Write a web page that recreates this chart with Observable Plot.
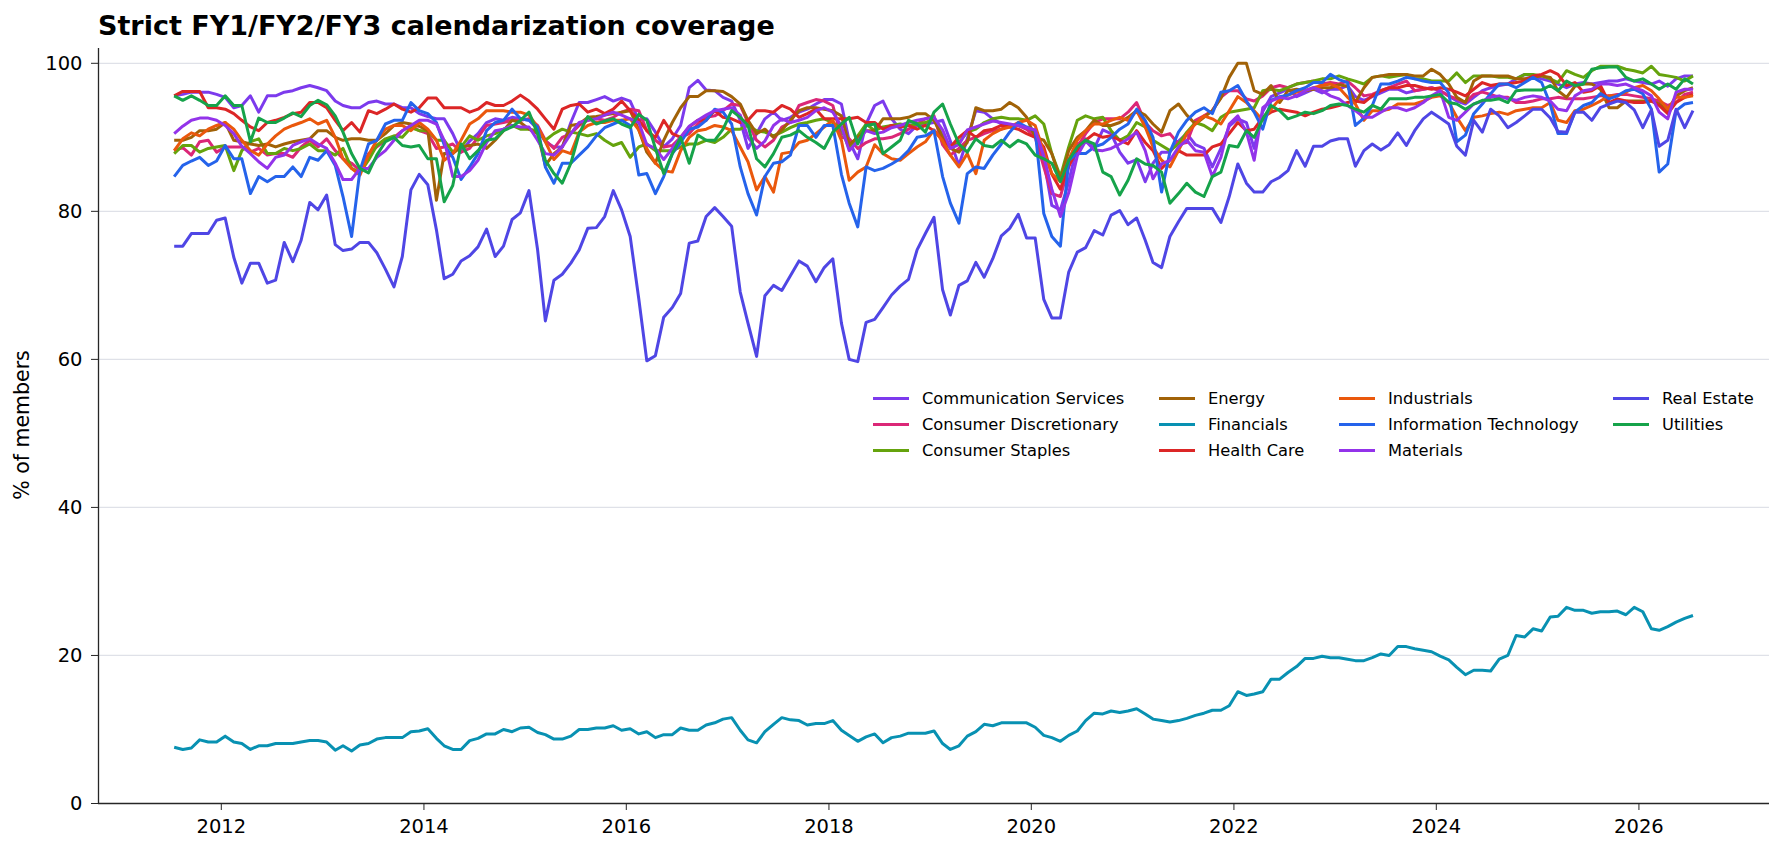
<!DOCTYPE html>
<html>
<head>
<meta charset="utf-8">
<script src="https://cdn.jsdelivr.net/npm/d3@7"></script>
<script src="https://cdn.jsdelivr.net/npm/@observablehq/plot@0.6"></script>
<style>
  body { margin: 0; background: #fff; font-family: "DejaVu Sans", sans-serif; }
  #wrap { position: relative; width: 1784px; height: 853px; overflow: hidden; }
  #title { position: absolute; left: 98px; top: 12px; font-size: 27px; line-height: 1; font-weight: bold; color: #000; white-space: nowrap; }
  #ylabel { position: absolute; left: 22px; top: 425px; transform: translate(-50%, -50%) rotate(-90deg); font-size: 20.5px; color: #000; white-space: nowrap; }
  .lg { position: absolute; height: 20px; display: flex; align-items: center; font-size: 16.3px; color: #000; white-space: nowrap; }
  .lg .sw { width: 36px; height: 3px; margin-right: 13px; }
</style>
</head>
<body>
<div id="wrap">
  <div id="chart"></div>
  <div id="title">Strict FY1/FY2/FY3 calendarization coverage</div>
  <div id="ylabel">% of members</div>
  <div id="legend"></div>
</div>
<script>
// Monthly coverage (% of members) per GICS sector, Jul 2011 – Jul 2026
const firstMonth = [2011, 6];   // July 2011 (UTC month index)
const monthCount = 181;

const sectors = [
  "Communication Services", "Consumer Discretionary", "Consumer Staples",
  "Energy", "Financials", "Health Care", "Industrials",
  "Information Technology", "Materials", "Real Estate", "Utilities"
];
const sectorColors = [
  "#7c3aed", "#db2777", "#65a30d", "#a16207", "#0891b2", "#dc2626",
  "#ea580c", "#2563eb", "#9333ea", "#4f46e5", "#16a34a"
];

const communicationServices = [
  95.6, 95.8, 96.1, 96.1, 96.1, 95.8, 95.4, 94.0, 94.3, 95.6,
  93.4, 95.6, 95.6, 96.1, 96.3, 96.7, 97.0, 96.7, 96.3, 94.9,
  94.3, 94.0, 94.0, 94.7, 94.9, 94.5, 94.5, 94.0, 94.0, 93.2,
  92.8, 92.5, 92.5, 90.5, 88.0, 89.5, 90.5,
  92.0, 92.5, 92.3, 92.7, 92.5, 92.3, 91.1, 89.4, 88.7, 88.7,
  92.0, 94.7, 94.7, 95.1, 95.5, 94.9, 95.3, 94.9, 92.3, 92.5,
  90.7, 88.7, 89.8, 91.6, 96.7, 97.7, 96.4, 96.3, 95.4, 94.9,
  92.3, 88.5, 90.5, 92.5, 93.4, 92.3, 92.7,
  93.4, 93.8, 94.5, 95.1, 95.1, 94.5, 89.5, 87.1, 91.8, 94.3,
  94.9, 92.5, 91.1, 90.5, 91.6, 91.8, 92.0, 92.3, 89.5, 86.2,
  89.8, 93.6, 93.4, 92.5, 91.8, 91.6, 91.6, 91.1, 90.5, 86.9,
  80.8, 80.2, 84.0, 89.0, 89.8, 88.5,
  91.0, 90.5, 88.0, 86.5, 87.0, 84.0, 86.5, 88.0, 88.0, 89.5,
  90.5, 89.0, 88.5, 86.0, 88.5, 91.5, 92.5, 92.0, 88.5, 93.5,
  95.5, 96.0, 96.5, 95.5, 96.0, 96.5, 96.0, 96.5, 96.5, 97.0,
  95.5, 95.0, 95.5, 96.0, 96.5, 96.5, 96.0,
  96.3, 96.5, 96.7, 96.3, 95.6, 94.9, 94.5, 95.4, 96.3, 96.7,
  97.0, 97.2, 97.9, 98.5, 98.3, 97.9, 97.6, 97.2, 96.7, 97.2,
  97.4, 97.2, 97.4, 97.6, 97.6, 97.9, 97.6, 97.4, 97.2, 97.6,
  96.9, 97.9, 98.3, 98.3
];

const consumerDiscretionary = [
  88.2, 88.6, 87.6, 89.4, 89.6, 88.0, 88.7, 88.7, 88.7, 88.0,
  88.5, 87.6, 87.8, 87.8, 87.3, 88.7, 89.6, 88.7, 89.8, 88.2,
  87.1, 86.5, 85.5, 87.8, 88.7, 89.6, 90.0, 90.9, 91.6, 90.9,
  90.5, 88.5, 88.7, 89.1, 88.0, 88.5, 90.0,
  91.6, 91.8, 92.0, 92.3, 92.3, 92.5, 91.6, 89.6, 88.5, 90.0,
  90.5, 91.6, 92.3, 92.5, 92.3, 92.7, 93.4, 93.8, 93.6, 90.9,
  89.6, 88.7, 88.9, 90.0, 90.5, 91.8, 92.7, 92.9, 93.6, 94.5,
  94.3, 92.0, 89.6, 88.7, 89.6, 91.4, 92.0,
  94.3, 94.7, 95.1, 94.9, 94.3, 90.0, 89.8, 88.5, 89.3, 89.8,
  89.8, 90.0, 90.5, 91.1, 91.8, 92.5, 92.9, 89.0, 87.6, 88.5,
  89.6, 90.0, 90.5, 90.9, 91.1, 91.6, 91.6, 91.1, 90.0, 86.0,
  82.4, 82.0, 86.0, 88.7, 90.5, 92.0,
  92.5, 92.5, 92.5, 93.4, 94.7, 92.0, 90.9, 90.2, 90.5, 89.1,
  89.3, 92.3, 92.9, 93.6, 95.4, 96.3, 96.3, 95.2, 94.9, 95.6,
  96.7, 97.0, 96.7, 97.2, 97.4, 97.6, 97.2, 97.4, 97.2, 97.6,
  96.7, 95.6, 95.8, 96.3, 96.7, 97.2, 97.6,
  96.3, 96.5, 96.7, 96.3, 95.6, 95.2, 94.7, 95.8, 96.1, 95.8,
  95.4, 95.4, 94.7, 94.7, 94.9, 95.2, 95.2, 95.4, 95.2, 95.2,
  95.2, 95.4, 95.6, 95.6, 95.8, 95.8, 95.6, 95.4, 95.2, 94.9,
  94.3, 94.7, 95.8, 96.1
];

const consumerStaples = [
  87.8, 88.9, 88.9, 88.0, 88.5, 88.7, 88.9, 85.5, 88.2, 89.4,
  89.8, 87.8, 87.8, 88.5, 88.2, 88.5, 89.1, 88.2, 88.2, 87.6,
  88.5, 85.8, 85.2, 86.9, 88.9, 89.8, 90.2, 90.0, 91.3, 90.9,
  90.9, 89.6, 89.6, 88.0, 88.7, 90.2, 89.6,
  90.2, 90.5, 91.1, 91.6, 91.1, 91.1, 90.9, 89.6, 90.5, 91.1,
  90.7, 90.5, 90.2, 90.5, 89.6, 88.9, 89.3, 87.3, 88.7, 89.1,
  88.2, 88.2, 88.2, 88.7, 89.1, 89.1, 89.6, 89.3, 90.0, 91.1,
  91.1, 91.6, 90.9, 90.7, 90.2, 90.7, 91.3,
  91.8, 92.0, 92.3, 92.5, 92.0, 91.1, 88.5, 90.2, 91.8, 90.9,
  91.4, 91.6, 91.8, 91.6, 91.8, 92.0, 92.5, 90.2, 88.7, 89.3,
  90.7, 91.1, 92.0, 92.5, 92.7, 92.5, 92.5, 92.3, 92.9, 91.8,
  87.8, 84.7, 88.7, 92.3, 92.9, 92.5,
  92.7, 90.9, 89.6, 90.2, 92.0, 91.4, 89.6, 88.9, 88.2, 89.1,
  90.7, 92.0, 91.6, 90.9, 92.7, 93.4, 93.6, 93.8, 94.0, 96.3,
  96.5, 96.3, 96.7, 97.2, 97.4, 97.6, 97.9, 97.9, 98.3, 97.9,
  97.6, 97.2, 98.1, 98.3, 98.1, 98.3, 98.5,
  97.9, 97.9, 97.6, 97.6, 97.6, 98.7, 97.4, 98.3, 98.3, 98.3,
  98.1, 98.1, 97.9, 98.5, 98.5, 98.3, 97.9, 97.4, 99.0, 98.5,
  98.1, 99.0, 99.6, 99.6, 99.6, 99.2, 99.0, 98.7, 99.6, 98.5,
  98.3, 98.1, 97.6, 98.3
];

const energy = [
  89.6, 89.6, 90.0, 90.9, 90.9, 91.1, 92.0, 89.6, 89.4, 89.1,
  88.9, 89.1, 88.7, 89.1, 89.4, 89.6, 89.8, 90.9, 90.9, 90.0,
  89.6, 89.8, 89.8, 89.6, 89.6, 90.5, 91.6, 92.0, 91.8, 91.5,
  90.9, 81.5, 87.8, 87.8, 88.7, 88.9, 89.1,
  88.5, 89.6, 90.9, 92.3, 92.0, 91.1, 90.5, 86.2, 87.8, 88.7,
  91.6, 91.8, 92.7, 92.8, 93.0, 93.2, 93.4, 93.6, 91.0, 88.0,
  86.5, 89.6, 92.0, 94.0, 95.5, 95.5, 96.3, 96.3, 96.2, 95.5,
  94.5, 92.3, 90.5, 91.1, 90.0, 91.0, 92.3,
  93.6, 94.0, 94.0, 93.8, 93.6, 92.9, 89.0, 90.0, 90.9, 90.9,
  92.5, 92.5, 92.5, 92.7, 93.2, 93.2, 92.3, 90.0, 88.5, 88.0,
  89.3, 94.0, 93.6, 93.6, 93.8, 94.7, 94.0, 92.7, 90.0, 89.6,
  87.8, 84.2, 88.2, 90.0, 90.9, 92.3,
  91.6, 91.6, 92.0, 92.7, 93.6, 93.0, 91.8, 90.7, 93.6, 94.5,
  93.0, 91.8, 92.7, 93.6, 95.3, 98.1, 100.0, 100.0, 96.3, 95.8,
  97.0, 94.7, 96.3, 96.5, 96.3, 96.5, 96.7, 96.7, 97.1, 96.9,
  94.7, 96.7, 98.1, 98.3, 98.5, 98.5, 98.5,
  98.3, 98.3, 99.2, 98.5, 97.2, 95.4, 94.7, 97.6, 98.3, 98.3,
  98.3, 98.3, 97.9, 97.9, 98.1, 98.3, 98.1, 96.3, 95.4, 96.9,
  97.2, 97.2, 96.5, 94.0, 94.0, 94.9, 94.9, 94.9, 94.9, 94.5,
  93.6, 95.6, 96.3, 96.7
];

const financials = [
  7.6, 7.3, 7.5, 8.6, 8.3, 8.3, 9.1, 8.3, 8.1, 7.3,
  7.8, 7.8, 8.1, 8.1, 8.1, 8.3, 8.5, 8.5, 8.3, 7.2,
  7.8, 7.1, 7.9, 8.1, 8.7, 8.9, 8.9, 8.9, 9.7, 9.8,
  10.1, 8.8, 7.8, 7.3, 7.3, 8.5, 8.8, 9.4, 9.4, 10.0,
  9.7, 10.2, 10.3, 9.6, 9.3, 8.7, 8.7, 9.1, 10.0, 10.0,
  10.2, 10.2, 10.5, 9.9, 10.1, 9.4, 9.7, 8.9, 9.3, 9.3,
  10.2, 9.9, 9.9, 10.6, 10.9, 11.4, 11.6, 9.9, 8.6, 8.2,
  9.7, 10.7, 11.6, 11.3, 11.2, 10.6, 10.8, 10.8, 11.2, 9.9,
  9.2, 8.4, 9.0, 9.4, 8.2, 8.9, 9.1, 9.5, 9.5, 9.5,
  9.8, 8.1,
  7.3, 7.8, 9.1, 9.7, 10.7, 10.5, 10.9, 10.9, 10.9, 10.9,
  10.3, 9.2, 8.9, 8.4, 9.2, 9.8, 11.2, 12.2, 12.1, 12.5,
  12.3, 12.5, 12.8, 12.1, 11.4, 11.2, 11.0, 11.2, 11.5, 11.9,
  12.2, 12.6, 12.6, 13.2, 15.1, 14.6, 14.8, 15.1, 16.8, 16.8,
  17.7, 18.5, 19.6, 19.6, 19.9, 19.7, 19.7, 19.5, 19.3, 19.3,
  19.7, 20.2, 20.0, 21.2, 21.2, 20.9, 20.7, 20.5, 19.9, 19.4,
  18.4, 17.4, 18.0, 18.0, 17.9, 19.5, 20.0, 22.7, 22.5, 23.6,
  23.3, 25.2, 25.3, 26.5, 26.1, 26.1, 25.7, 25.9, 25.9, 26.0,
  25.5, 26.5, 25.9, 23.6, 23.4, 23.9, 24.5, 25.0, 25.4
];

const healthCare = [
  95.6, 96.2, 96.2, 96.2, 94.0, 94.0, 93.8, 93.2, 92.3, 91.4,
  90.9, 92.0, 92.3, 92.7, 93.2, 93.4, 94.7, 94.7, 94.0, 92.3,
  90.9, 92.0, 90.7, 93.6, 93.2, 93.8, 94.5, 93.8, 93.4, 94.0,
  95.3, 95.3, 94.0, 94.0, 94.0, 93.4, 93.8,
  94.7, 94.3, 94.3, 94.9, 95.7, 94.9, 93.8, 92.5, 91.1, 93.8,
  94.3, 94.5, 93.4, 93.8, 93.2, 93.8, 94.9, 93.6, 92.3, 90.9,
  90.0, 92.3, 90.5, 90.0, 91.4, 92.3, 92.3, 93.6, 92.7, 92.5,
  92.0, 92.3, 93.6, 93.6, 93.4, 94.3, 93.8,
  92.7, 93.2, 93.8, 92.5, 92.5, 92.5, 92.5, 92.7, 92.0, 92.0,
  91.1, 91.6, 91.4, 91.6, 91.1, 91.6, 90.9, 89.6, 88.7, 90.0,
  90.9, 90.0, 90.9, 91.1, 91.6, 91.4, 91.1, 90.5, 90.0, 88.7,
  85.0, 83.0, 86.2, 88.2, 89.6, 90.5,
  90.0, 90.2, 89.6, 89.1, 90.9, 89.3, 88.2, 85.8, 86.9, 88.2,
  87.6, 87.6, 87.6, 88.7, 89.1, 90.5, 92.0, 90.9, 91.1, 92.7,
  93.4, 93.8, 93.6, 93.4, 92.9, 93.4, 93.8, 94.0, 94.3, 94.7,
  94.9, 94.7, 95.6, 96.3, 96.7, 96.7, 97.0,
  97.0, 96.7, 96.5, 96.7, 96.5, 96.1, 95.6, 96.5, 97.4, 97.0,
  97.2, 97.2, 97.4, 97.6, 98.3, 98.5, 99.0, 98.5, 97.0, 97.4,
  96.1, 96.3, 97.0, 94.7, 95.2, 94.9, 94.7, 94.7, 94.9, 94.3,
  93.2, 94.7, 95.4, 95.8
];

const industrials = [
  88.2, 89.8, 90.6, 90.2, 91.1, 91.6, 92.0, 91.1, 89.6, 88.2,
  87.6, 89.1, 90.2, 91.1, 91.6, 92.0, 92.5, 91.8, 92.3, 90.0,
  87.1, 85.8, 84.9, 87.6, 89.6, 91.1, 91.6, 91.6, 90.9, 92.0,
  91.1, 89.6, 86.9, 87.8, 89.6, 91.8, 92.5,
  93.6, 93.6, 93.6, 93.4, 93.4, 93.0, 91.4, 89.4, 87.0, 88.2,
  87.8, 90.7, 91.6, 92.0, 92.0, 92.3, 92.3, 92.5, 91.0, 88.5,
  86.5, 85.5, 85.3, 88.2, 90.0, 90.9, 91.1, 91.6, 91.4, 90.9,
  88.7, 86.7, 82.9, 84.7, 82.6, 87.8, 88.0,
  89.3, 89.6, 90.5, 91.4, 92.3, 89.6, 84.2, 85.3, 86.0, 89.0,
  87.8, 87.1, 86.9, 87.8, 88.7, 89.4, 91.0, 89.5, 87.6, 86.0,
  87.8, 85.1, 89.6, 90.5, 91.1, 91.4, 92.0, 92.3, 91.6, 88.0,
  85.1, 84.0, 87.0, 89.6, 90.9, 91.8,
  91.8, 92.3, 92.7, 92.3, 93.6, 91.4, 88.7, 86.9, 86.0, 88.2,
  90.5, 91.8, 92.9, 92.5, 91.8, 93.6, 95.5, 94.7, 93.6, 92.3,
  93.8, 95.2, 95.7, 96.1, 96.3, 96.7, 97.0, 97.2, 96.7, 95.4,
  94.5, 92.3, 93.6, 93.6, 93.8, 94.5, 94.5,
  94.5, 94.9, 95.4, 95.6, 94.7, 92.7, 90.9, 92.7, 92.9, 93.2,
  93.4, 93.1, 93.6, 93.8, 94.0, 94.0, 94.7, 92.3, 92.0, 93.6,
  93.8, 94.3, 94.9, 95.6, 95.6, 96.1, 96.7, 97.0, 96.3, 95.2,
  93.8, 95.4, 95.4, 95.6
];

const informationTechnology = [
  84.7, 86.2, 86.8, 87.3, 86.2, 86.8, 88.9, 87.1, 87.1, 82.4,
  84.7, 84.0, 84.7, 84.7, 86.0, 84.7, 87.3, 86.9, 88.2, 86.2,
  82.0, 76.6, 85.5, 89.1, 89.6, 91.8, 92.3, 92.3, 94.7, 93.6,
  93.2, 92.0, 89.0, 87.3, 84.3, 86.0, 87.8,
  90.9, 92.0, 92.3, 93.8, 92.5, 92.3, 91.4, 86.0, 83.8, 86.5,
  86.5, 87.6, 88.7, 90.2, 91.3, 91.8, 92.3, 91.6, 84.9, 85.1,
  82.4, 84.7, 87.8, 89.3, 91.1, 91.4, 92.3, 93.8, 93.4, 91.8,
  86.0, 82.4, 79.5, 84.7, 86.5, 86.7, 87.6,
  91.6, 91.6, 90.0, 91.6, 91.6, 85.0, 81.1, 77.9, 86.0, 85.5,
  85.8, 86.4, 87.1, 88.2, 90.0, 90.2, 90.9, 84.7, 81.1, 78.4,
  85.1, 86.0, 85.8, 87.6, 89.1, 90.7, 92.0, 91.4, 90.9, 79.7,
  76.6, 75.3, 86.9, 87.8, 87.8, 88.7,
  89.1, 90.0, 91.1, 91.8, 93.8, 92.3, 90.0, 82.6, 88.0, 90.7,
  92.3, 93.4, 94.0, 93.2, 96.1, 96.3, 97.0, 94.9, 93.4, 91.1,
  95.0, 95.5, 95.7, 96.3, 96.7, 97.4, 97.4, 98.5, 97.8, 97.4,
  91.6, 92.6, 94.3, 97.2, 97.2, 97.6, 98.1,
  97.9, 97.6, 97.4, 97.4, 96.0, 89.4, 90.3, 93.2, 94.5, 95.9,
  97.2, 97.2, 96.7, 97.4, 98.1, 97.4, 94.5, 90.5, 90.5, 93.4,
  94.3, 94.7, 95.9, 95.2, 95.6, 96.3, 96.5, 95.9, 93.8, 85.3,
  86.4, 93.6, 94.5, 94.7
];

const materials = [
  90.5, 91.5, 92.3, 92.6, 92.6, 92.3, 91.6, 90.5, 88.8, 87.8,
  86.7, 85.8, 87.3, 87.6, 88.9, 89.4, 89.8, 89.1, 88.5, 86.5,
  84.3, 84.3, 85.8, 85.8, 87.3, 88.2, 89.6, 90.9, 91.6, 92.3,
  92.3, 91.8, 89.6, 84.7, 84.7, 85.5, 86.9,
  89.3, 90.9, 91.1, 91.6, 91.4, 91.4, 89.6, 87.8, 87.6, 88.7,
  90.5, 92.0, 92.3, 92.5, 93.0, 93.4, 93.0, 92.5, 92.0, 89.0,
  88.5, 87.0, 88.5, 90.0, 91.5, 92.3, 93.0, 93.6, 93.8, 94.0,
  93.0, 90.0, 88.5, 89.5, 91.6, 92.5, 92.0,
  92.3, 92.7, 93.6, 94.0, 93.4, 91.5, 88.2, 89.5, 90.9, 90.5,
  90.7, 91.3, 91.6, 92.0, 92.3, 92.5, 92.7, 91.0, 88.5, 89.0,
  91.0, 91.4, 91.8, 92.2, 92.0, 91.8, 91.6, 91.3, 91.0, 87.5,
  83.0, 79.3, 82.5, 87.5, 89.5, 88.3,
  88.2, 88.5, 89.1, 89.8, 90.7, 88.2, 84.4, 86.4, 86.9, 88.7,
  89.6, 88.2, 88.0, 84.7, 87.3, 91.8, 92.9, 90.7, 86.9, 94.0,
  94.9, 95.4, 95.2, 95.6, 96.3, 96.7, 96.3, 95.6, 95.2, 94.3,
  93.6, 92.7, 92.7, 93.4, 94.0, 94.0, 93.6,
  94.0, 94.7, 95.6, 96.3, 92.7, 92.3, 93.4, 94.5, 94.9, 95.4,
  95.6, 95.2, 95.0, 95.4, 95.6, 95.4, 94.9, 93.8, 93.6, 95.6,
  96.3, 96.5, 97.2, 97.2, 97.0, 97.2, 96.7, 96.3, 95.6, 93.4,
  92.5, 96.1, 96.5, 96.5
];

const realEstate = [
  75.3, 75.3, 77.0, 77.0, 77.0, 78.8, 79.1, 73.8, 70.3, 73.0,
  73.0, 70.3, 70.7, 75.8, 73.2, 76.1, 81.2, 80.2, 82.2, 75.5,
  74.7, 74.9, 75.8, 75.8, 74.4, 72.2, 69.8, 73.9, 82.9, 85.0,
  83.6, 77.5, 70.9, 71.5, 73.3, 74.0, 75.2, 77.6, 73.9, 75.3,
  78.9, 79.8, 82.8, 74.8, 65.2, 70.7, 71.5, 73.0, 74.8, 77.7,
  77.8, 79.3, 82.8, 80.2, 76.6, 68.2, 59.8, 60.5, 65.7, 67.0,
  68.9, 75.7, 76.0, 79.3, 80.5, 79.3, 78.0, 69.1, 64.9, 60.4,
  68.6, 70.0, 69.3, 71.3, 73.3, 72.6, 70.5, 72.4, 73.6, 64.9,
  60.0, 59.7, 65.0, 65.4, 67.0, 68.7, 69.9, 70.8, 74.8, 77.0,
  79.2, 69.4, 66.0, 70.0, 70.6, 73.1, 71.1, 73.6, 76.7, 77.7,
  79.6, 76.4, 76.4, 68.1, 65.6, 65.6, 71.8, 74.5, 75.1, 77.4,
  76.8, 79.5, 80.1, 78.2, 79.1, 76.1, 73.1, 72.4, 76.6, 78.6,
  80.4, 80.4, 80.4, 80.4, 78.5, 82.0, 86.4, 83.8, 82.6, 82.6,
  84.0, 84.6, 85.5, 88.2, 86.1, 88.8, 88.8, 89.5, 89.8, 89.8,
  86.1, 88.2, 89.1, 88.3, 89.0, 90.6, 88.9, 90.9, 92.5, 93.4,
  92.6, 91.8, 88.8, 87.6, 92.3, 90.7, 93.8, 92.9, 91.3, 92.0,
  92.9, 93.8, 93.8, 92.6, 90.8, 90.7, 93.4, 93.4, 92.3, 94.0,
  94.5, 94.9, 94.7, 93.7, 91.3, 93.7, 88.8, 89.6, 93.8, 91.3,
  93.6
];

const utilities = [
  95.6, 95.0, 95.6, 95.0, 94.3, 94.3, 95.6, 94.3, 94.3, 89.4,
  92.6, 92.0, 92.0, 92.6, 93.3, 92.8, 94.3, 95.0, 94.4, 92.9,
  90.7, 87.8, 85.8, 85.2, 87.6, 89.4, 90.0, 88.9, 88.7, 88.9,
  87.1, 87.1, 81.3, 83.5, 89.1, 87.1, 88.2,
  89.6, 89.8, 90.9, 91.4, 92.3, 93.4, 90.5, 86.9, 85.1, 83.8,
  86.5, 90.5, 92.8, 91.8, 92.2, 92.5, 91.8, 91.3, 93.1, 92.3,
  88.5, 85.1, 87.8, 90.0, 86.5, 90.3, 89.6, 89.6, 91.1, 93.6,
  92.7, 91.6, 87.1, 86.0, 87.8, 90.0, 90.3,
  90.9, 90.0, 89.3, 88.5, 90.7, 91.8, 92.7, 89.1, 91.6, 91.8,
  87.8, 88.7, 89.6, 92.3, 91.8, 90.7, 93.4, 94.5, 91.8, 89.1,
  88.0, 89.8, 88.9, 88.7, 89.6, 88.7, 89.6, 89.1, 87.6, 87.1,
  86.5, 84.0, 86.9, 88.7, 89.6, 89.1,
  85.3, 84.7, 82.2, 84.2, 87.1, 86.4, 86.2, 85.3, 81.1, 82.4,
  83.8, 82.6, 82.0, 84.7, 85.3, 88.9, 88.7, 90.9, 90.0, 92.5,
  94.3, 93.6, 92.5, 92.9, 93.4, 93.2, 93.6, 94.3, 94.5, 94.3,
  93.8, 93.4, 94.3, 93.8, 95.2, 95.2, 95.2,
  95.4, 95.4, 95.6, 95.8, 94.7, 94.5, 93.8, 94.5, 95.0, 95.0,
  95.2, 94.7, 96.3, 96.4, 96.4, 96.4, 97.0, 96.3, 97.6, 97.0,
  97.2, 99.2, 99.4, 99.5, 99.5, 98.1, 97.6, 97.9, 97.2, 96.5,
  97.2, 96.5, 97.9, 97.2
];

const yTicks = [0, 20, 40, 60, 80, 100];

// Series in legend order (later series draw on top)
const sectorValues = [
  communicationServices, consumerDiscretionary, consumerStaples, energy,
  financials, healthCare, industrials, informationTechnology,
  materials, realEstate, utilities
];

const months = d3.range(monthCount).map(i => new Date(Date.UTC(firstMonth[0], firstMonth[1] + i, 15)));

const rows = sectors.flatMap((name, s) =>
  sectorValues[s].map((v, i) => ({sector: name, date: months[i], value: v}))
);

const xDomain = [new Date(Date.UTC(2010, 9, 15)), new Date(Date.UTC(2027, 3, 17))];

const chart = Plot.plot({
  width: 1784,
  height: 853,
  marginLeft: 98,
  marginRight: 15,
  marginTop: 48,
  marginBottom: 50,
  style: {fontFamily: '"DejaVu Sans", sans-serif', fontSize: "19.5px", color: "#000", background: "#fff", overflow: "visible"},
  x: {type: "utc", domain: xDomain},
  y: {domain: [0, 102]},
  color: {domain: sectors, range: sectorColors},
  marks: [
    Plot.gridY(yTicks.filter(d => d > 0), {stroke: "#dfe1e8", strokeOpacity: 1, strokeWidth: 1.2}),
    Plot.line(rows, {x: "date", y: "value", z: "sector", stroke: "sector", strokeWidth: 3, strokeLinejoin: "round", strokeLinecap: "butt"}),
    Plot.ruleY([0], {stroke: "#262626", strokeWidth: 1.3}),
    Plot.ruleX([xDomain[0]], {stroke: "#262626", strokeWidth: 1.3}),
    Plot.axisX({ticks: d3.utcYear.every(2), tickFormat: d3.utcFormat("%Y"), tickSize: 7, tickPadding: 9, label: null, stroke: "#262626"}),
    Plot.axisY({ticks: yTicks, tickSize: 7, tickPadding: 9, label: null, stroke: "#262626"})
  ]
});
document.getElementById("chart").appendChild(chart);

// Legend: four columns, filled column by column
const legendCols = [
  {swatch: 873, rows: [0, 1, 2]},
  {swatch: 1159, rows: [3, 4, 5]},
  {swatch: 1339, rows: [6, 7, 8]},
  {swatch: 1613, rows: [9, 10]}
];
const legendRowY = [398, 424, 450];
const legend = document.getElementById("legend");
legendCols.forEach(col => {
  col.rows.forEach((s, r) => {
    const item = document.createElement("div");
    item.className = "lg";
    item.style.left = col.swatch + "px";
    item.style.top = (legendRowY[r] - 10) + "px";
    const sw = document.createElement("span");
    sw.className = "sw";
    sw.style.background = sectorColors[s];
    const label = document.createElement("span");
    label.textContent = sectors[s];
    item.appendChild(sw);
    item.appendChild(label);
    legend.appendChild(item);
  });
});
</script>
</body>
</html>
